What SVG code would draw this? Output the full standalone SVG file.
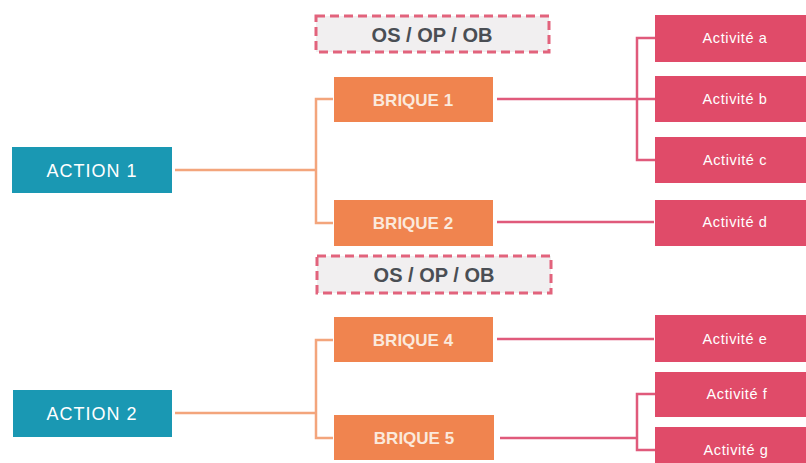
<svg xmlns="http://www.w3.org/2000/svg" width="806" height="463" viewBox="0 0 806 463">
<style>
.action{fill:#1a98b3}
.brique{fill:#f0844f}
.act{fill:#e04b69}
.os{fill:#f1eff0;stroke:#e2637c;stroke-width:3;stroke-dasharray:9,5}
.ta{font-family:"Liberation Sans",Arial,sans-serif;font-size:18px;fill:#fff;text-anchor:middle;letter-spacing:1px}
.tb{font-family:"Liberation Sans",Arial,sans-serif;font-size:17px;font-weight:bold;fill:#fbe9dc;text-anchor:middle}
.tc{font-family:"Liberation Sans",Arial,sans-serif;font-size:14.5px;fill:#fff;text-anchor:middle;letter-spacing:0.6px}
.to{font-family:"Liberation Sans",Arial,sans-serif;font-size:20px;font-weight:bold;fill:#4a4e54;text-anchor:middle}
.co{fill:none;stroke:#f3a57c;stroke-width:2.5}
.cp{fill:none;stroke:#e05a7b;stroke-width:2.5}
</style>
<rect width="806" height="463" fill="#fff"/>
<g id="connectors">
<path class="co" d="M175 170H316M333 99H316V223H333"/>
<path class="co" d="M175 413H316M333 340H316V438H333"/>
<path class="cp" d="M497 99H655M655 38H637V160H655"/>
<path class="cp" d="M497 222H654"/>
<path class="cp" d="M497 339H654"/>
<path class="cp" d="M500 438H637M655 394H637V450H655"/>
</g>
<g id="os1"><rect class="os" x="316" y="16" width="233" height="36"/><text class="to" x="432" y="42">OS / OP / OB</text></g>
<g id="os2"><rect class="os" x="317" y="256" width="234" height="37"/><text class="to" x="434" y="282">OS / OP / OB</text></g>
<g id="action1"><rect class="action" x="12" y="147" width="160" height="46"/><text class="ta" x="92" y="177">ACTION 1</text></g>
<g id="action2"><rect class="action" x="13" y="390" width="159" height="47"/><text class="ta" x="92" y="420">ACTION 2</text></g>
<g id="brique1"><rect class="brique" x="334" y="77" width="159" height="45"/><text class="tb" x="413" y="106">BRIQUE 1</text></g>
<g id="brique2"><rect class="brique" x="334" y="200" width="159" height="46"/><text class="tb" x="413" y="229">BRIQUE 2</text></g>
<g id="brique4"><rect class="brique" x="334" y="317" width="159" height="45"/><text class="tb" x="413" y="346">BRIQUE 4</text></g>
<g id="brique5"><rect class="brique" x="334" y="415" width="160" height="45"/><text class="tb" x="414" y="444">BRIQUE 5</text></g>
<g id="acta"><rect class="act" x="655" y="15" width="160" height="47"/><text class="tc" x="735" y="43">Activité a</text></g>
<g id="actb"><rect class="act" x="655" y="76" width="160" height="46"/><text class="tc" x="735" y="104">Activité b</text></g>
<g id="actc"><rect class="act" x="655" y="137" width="160" height="46"/><text class="tc" x="735" y="165">Activité c</text></g>
<g id="actd"><rect class="act" x="655" y="200" width="160" height="46"/><text class="tc" x="735" y="227">Activité d</text></g>
<g id="acte"><rect class="act" x="655" y="315" width="160" height="47"/><text class="tc" x="735" y="344">Activité e</text></g>
<g id="actf"><rect class="act" x="655" y="372" width="160" height="45"/><text class="tc" x="737" y="399">Activité f</text></g>
<g id="actg"><rect class="act" x="655" y="427" width="160" height="45"/><text class="tc" x="736" y="455">Activité g</text></g>
</svg>
